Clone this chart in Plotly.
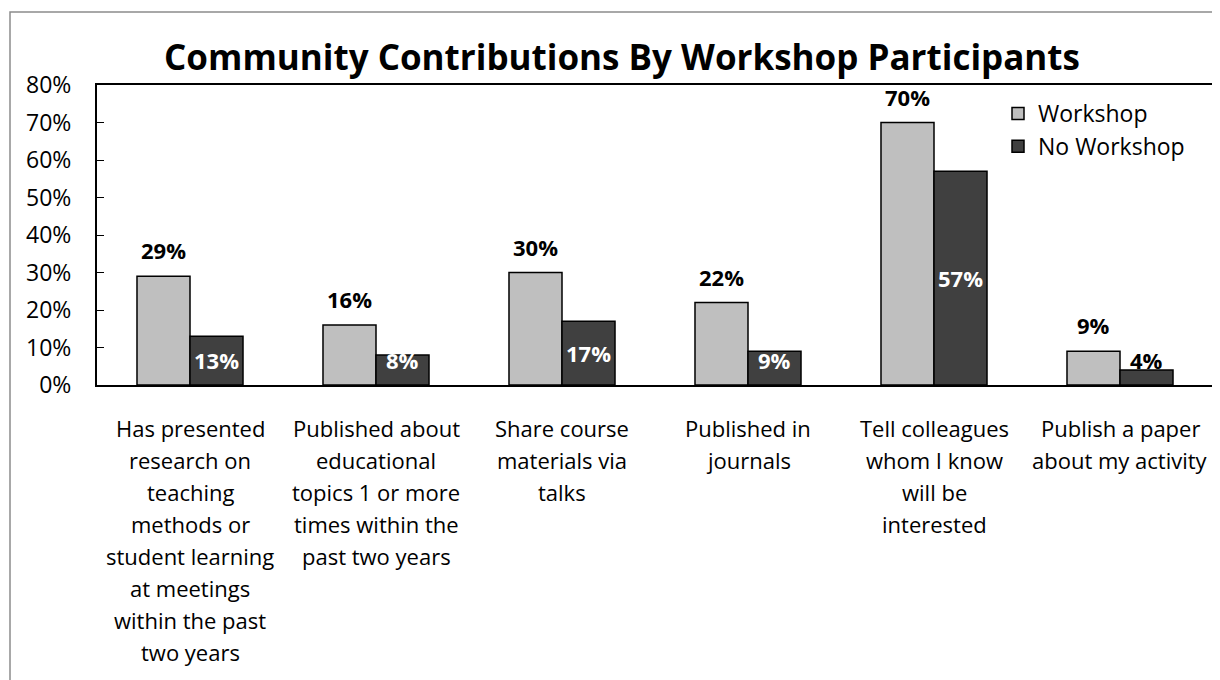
import plotly.graph_objects as go

categories = [
    "Has presented\nresearch on\nteaching\nmethods or\nstudent learning\nat meetings\nwithin the past\ntwo years",
    "Published about\neducational\ntopics 1 or more\ntimes within the\npast two years",
    "Share course\nmaterials via\ntalks",
    "Published in\njournals",
    "Tell colleagues\nwhom I know\nwill be\ninterested",
    "Publish a paper\nabout my activity",
]
workshop = [29, 16, 30, 22, 70, 9]
no_workshop = [13, 8, 17, 9, 57, 4]
y_ticks = [0, 10, 20, 30, 40, 50, 60, 70, 80]
title_text = "Community Contributions By Workshop Participants"

FONT = "Open Sans"
idx = list(range(len(categories)))
BW = 0.285

# page body has an 8px margin, so the figure is drawn offset by (8, 8)
W, H = 1212, 672
PL, PR, PT, PB = 89, 1205, 77, 377  # plot area in figure coords
PW, PH = PR - PL, PB - PT

fig = go.Figure()
fig.add_trace(go.Bar(
    x=idx, y=workshop, name="Workshop", width=BW, offset=-BW,
    marker=dict(color="#BFBFBF", line=dict(color="#000000", width=1.5)),
    hoverinfo="skip",
))
fig.add_trace(go.Bar(
    x=idx, y=no_workshop, name="No Workshop", width=BW, offset=0,
    marker=dict(color="#404040", line=dict(color="#000000", width=1.5)),
    hoverinfo="skip",
))

ann = []
for i, v in enumerate(workshop):
    ann.append(dict(x=i - BW / 2, y=v, xref="x", yref="y", text=f"<b>{v}%</b>",
                    showarrow=False, yanchor="middle", yshift=26,
                    font=dict(family=FONT, size=22, color="#000")))
for i, v in enumerate(no_workshop):
    inside = v >= 8
    ann.append(dict(x=i + BW / 2, y=max(v / 2, 6.6), xref="x", yref="y", text=f"<b>{v}%</b>",
                    showarrow=False, yanchor="middle",
                    font=dict(family=FONT, size=22, color="#FFFFFF" if inside else "#000")))
for i, c in enumerate(categories):
    for k, line in enumerate(c.split("\n")):
        ann.append(dict(x=i, y=0, xref="x", yref="y", text=line, showarrow=False,
                        yanchor="middle", yshift=-43 - 32 * k,
                        font=dict(family=FONT, size=22, color="#000")))

fig.update_layout(
    width=W, height=H,
    paper_bgcolor="white", plot_bgcolor="white",
    margin=dict(l=PL, r=W - PR, t=PT, b=H - PB, autoexpand=False),
    barmode="overlay",
    title=dict(text=f"<b>{title_text}</b>", x=(622 - 8) / W, xanchor="center",
               y=1 - (58 - 8) / H, yanchor="middle", yref="container",
               font=dict(family=FONT, size=35, color="#000")),
    legend=dict(x=(998 - 97) / PW, y=(PB - (92 - 8)) / PH, xanchor="left", yanchor="top",
                bgcolor="rgba(0,0,0,0)", font=dict(family=FONT, size=23, color="#000"),
                itemwidth=30, tracegroupgap=0),
    annotations=ann,
    showlegend=True,
)
fig.update_xaxes(range=[-0.5, len(categories) - 0.5], showticklabels=False, showgrid=False,
                 zeroline=False, showline=True, linecolor="#000", linewidth=2, mirror=True,
                 ticks="")
fig.update_yaxes(range=[0, 80], tickvals=y_ticks, ticktext=[f"{t}%" for t in y_ticks],
                 showgrid=False, zeroline=False, showline=True, linecolor="#000",
                 linewidth=2, mirror=True, ticks="inside", ticklen=7, tickcolor="#000",
                 tickfont=dict(family=FONT, size=23, color="#000"), ticklabelstandoff=19)
fig.add_shape(type="rect", xref="paper", yref="paper",
              x0=(2 - PL) / PW, x1=(1209 - PL) / PW,
              y0=(PB - 700) / PH, y1=(PB - 4) / PH,
              line=dict(color="#8C8C8C", width=1.5), fillcolor="rgba(0,0,0,0)", layer="below")

fig.write_html("out.html")
